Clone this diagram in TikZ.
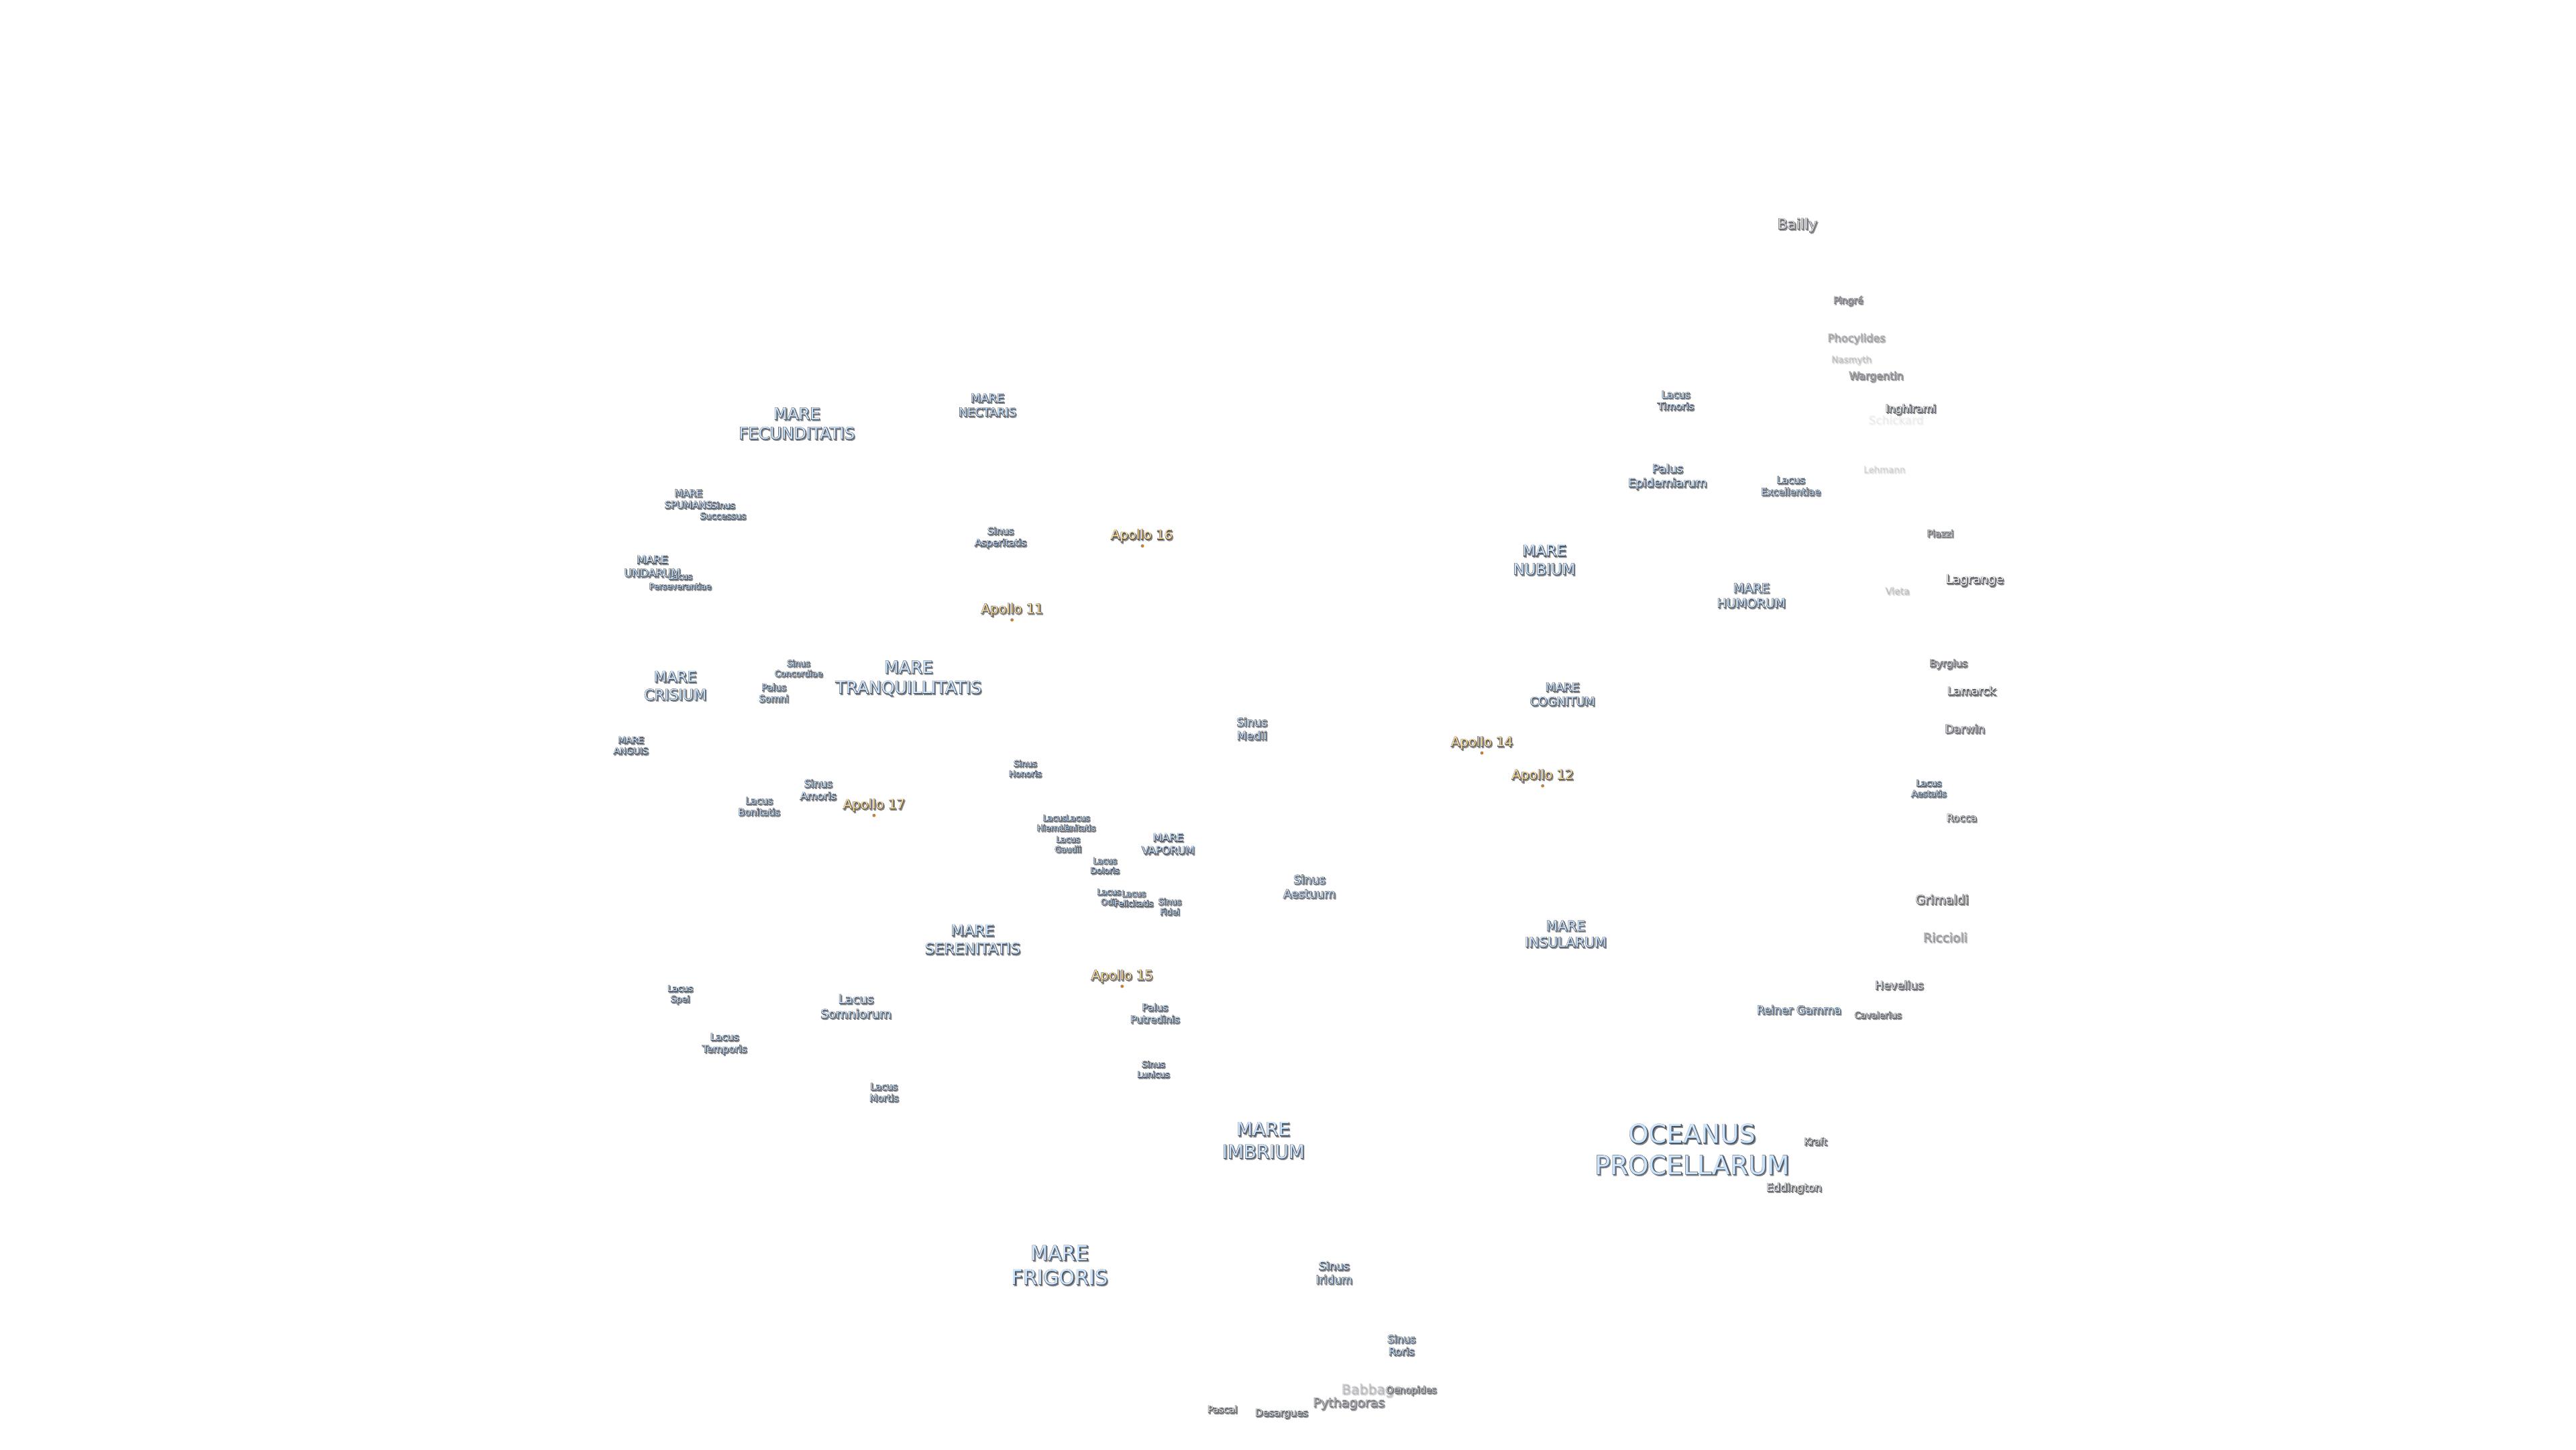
\documentclass[tikz,border=0pt]{standalone}
\usepackage{fontspec}
\setmainfont{DejaVu Sans}

% shadow and outline by stroked glyphs, fill on top, all from the same box
\newsavebox{\lblbox}
\newcommand{\lbl}[3]{%
  \setbox\lblbox=\hbox{\fontsize{#1}{#1}\selectfont\renewcommand{\arraystretch}{1.2}\begin{tabular}{@{}c@{}}#3\end{tabular}}%
  \rlap{\raisebox{-0.5pt}{\hspace{0.45pt}\special{pdf:code q 2 Tr 0.4 w}\special{pdf:bcolor [0.4 0.4 0.4] [0.55 0.55 0.55]}\usebox{\lblbox}\special{pdf:ecolor}\special{pdf:code Q}}}%
  \rlap{\special{pdf:code q 2 Tr 0.3 w}\special{pdf:bcolor [0.28 0.30 0.34] [0.28 0.30 0.34]}\usebox{\lblbox}\special{pdf:ecolor}\special{pdf:code Q}}%
  \special{pdf:bcolor [#2] [#2]}\usebox{\lblbox}\special{pdf:ecolor}}
\newcommand{\seafill}{0.80 0.90 1.00}
\newcommand{\craterfill}{0.95 0.95 0.95}
\newcommand{\sitefill}{1.00 0.87 0.62}

\begin{document}
\begin{tikzpicture}[x=0.0244898cm,y=-0.0244898cm,
    every node/.style={inner sep=0pt,align=center,yshift=-0.5pt},
    site dot/.style={circle,fill=orange!50!gray,minimum size=1.4pt}]
    \useasboundingbox (0,0) rectangle (1568,882);

    \node (procellarum) at (1030,701) {\lbl{11}{\seafill}{OCEANUS\\PROCELLARUM}};
    \node (frigoris) at (645,771) {\lbl{8.6}{\seafill}{MARE\\FRIGORIS}};
    \node (imbrium) at (769,695) {\lbl{7.9}{\seafill}{MARE\\IMBRIUM}};
    \node (tranquillitatis) at (553,413) {\lbl{7.2}{\seafill}{MARE\\TRANQUILLITATIS}};
    \node (serenitatis) at (592,572.5) {\lbl{6.4}{\seafill}{MARE\\SERENITATIS}};
    \node (fecunditatis) at (485,258.5) {\lbl{6.9}{\seafill}{MARE\\FECUNDITATIS}};
    \node (crisium) at (411,418) {\lbl{6.3}{\seafill}{MARE\\CRISIUM}};
    \node (nubium) at (940,341.5) {\lbl{6.5}{\seafill}{MARE\\NUBIUM}};
    \node (humorum) at (1066,363) {\lbl{5.35}{\seafill}{MARE\\HUMORUM}};
    \node (insularum) at (953,569) {\lbl{5.8}{\seafill}{MARE\\INSULARUM}};
    \node (cognitum) at (951,423) {\lbl{5}{\seafill}{MARE\\COGNITUM}};
    \node (vaporum) at (711,514) {\lbl{4.5}{\seafill}{MARE\\VAPORUM}};
    \node (nectaris) at (601,247) {\lbl{4.95}{\seafill}{MARE\\NECTARIS}};
    \node (spumans) at (419,304) {\lbl{4.1}{\seafill}{MARE\\SPUMANS}};
    \node (undarum) at (397,345) {\lbl{4.6}{\seafill}{MARE\\UNDARUM}};
    \node (anguis) at (384,454) {\lbl{3.8}{\seafill}{MARE\\ANGUIS}};

    \node (aestuum) at (797,540) {\lbl{5}{\seafill}{Sinus\\Aestuum}};
    \node (medii) at (762,444) {\lbl{4.8}{\seafill}{Sinus\\Medii}};
    \node (iridum) at (812,775) {\lbl{4.8}{\seafill}{Sinus\\Iridum}};
    \node (roris) at (853,819) {\lbl{4.4}{\seafill}{Sinus\\Roris}};
    \node (asperitatis) at (609,327) {\lbl{4.1}{\seafill}{Sinus\\Asperitatis}};
    \node (concordiae) at (486,407) {\lbl{3.6}{\seafill}{Sinus\\Concordiae}};
    \node (amoris) at (498,481) {\lbl{4.4}{\seafill}{Sinus\\Amoris}};
    \node (successus) at (440,311) {\lbl{3.75}{\seafill}{Sinus\\Successus}};
    \node (honoris) at (624,468) {\lbl{3.6}{\seafill}{Sinus\\Honoris}};
    \node (fidei) at (712,552) {\lbl{3.6}{\seafill}{Sinus\\Fidei}};
    \node (lunicus) at (702,651) {\lbl{3.6}{\seafill}{Sinus\\Lunicus}};

    \node (epidemiarum) at (1015,290) {\lbl{5}{\seafill}{Palus\\Epidemiarum}};
    \node (putredinis) at (703,617) {\lbl{4.2}{\seafill}{Palus\\Putredinis}};
    \node (somni) at (471,422) {\lbl{4}{\seafill}{Palus\\Somni}};

    \node (somniorum) at (521,613) {\lbl{5.2}{\seafill}{Lacus\\Somniorum}};
    \node (excellentiae) at (1090,296) {\lbl{4.15}{\seafill}{Lacus\\Excellentiae}};
    \node (timoris) at (1020,244) {\lbl{4.2}{\seafill}{Lacus\\Timoris}};
    \node (temporis) at (441,635) {\lbl{4.2}{\seafill}{Lacus\\Temporis}};
    \node (mortis) at (538,665) {\lbl{4}{\seafill}{Lacus\\Mortis}};
    \node (bonitatis) at (462,491) {\lbl{4}{\seafill}{Lacus\\Bonitatis}};
    \node (spei) at (414,605) {\lbl{3.7}{\seafill}{Lacus\\Spei}};
    \node (perseverantiae) at (414,354) {\lbl{3.5}{\seafill}{Lacus\\Perseverantiae}};
    \node (aestatis) at (1174,480) {\lbl{3.7}{\seafill}{Lacus\\Aestatis}};
    \node (hiemalis) at (642,501) {\lbl{3.5}{\seafill}{Lacus\\Hiemalis}};
    \node (lenitatis) at (656,501) {\lbl{3.5}{\seafill}{Lacus\\Lenitatis}};
    \node (gaudii) at (650,514) {\lbl{3.5}{\seafill}{Lacus\\Gaudii}};
    \node (doloris) at (672.5,527) {\lbl{3.5}{\seafill}{Lacus\\Doloris}};
    \node (odii) at (675,546) {\lbl{3.5}{\seafill}{Lacus\\Odii}};
    \node (felicitatis) at (690,547) {\lbl{3.5}{\seafill}{Lacus\\Felicitatis}};
    \node (reiner) at (1095,615) {\lbl{4.8}{\seafill}{Reiner Gamma}};

    \node (apollo16) at (695,326) {\lbl{5.6}{\sitefill}{Apollo 16}};
    \node (apollo11) at (616,371) {\lbl{5.6}{\sitefill}{Apollo 11}};
    \node (apollo17) at (532,490) {\lbl{5.6}{\sitefill}{Apollo 17}};
    \node (apollo15) at (683,594) {\lbl{5.6}{\sitefill}{Apollo 15}};
    \node (apollo14) at (902,452) {\lbl{5.6}{\sitefill}{Apollo 14}};
    \node (apollo12) at (939,472) {\lbl{5.6}{\sitefill}{Apollo 12}};
    \node[site dot] (site16) at (695.4,331.5) {};
    \node[site dot] (site11) at (616,376.5) {};
    \node[site dot] (site17) at (532,495.5) {};
    \node[site dot] (site15) at (683,599.5) {};
    \node[site dot] (site14) at (902,457.5) {};
    \node[site dot] (site12) at (939,477.5) {};

    \node[opacity=0.8] (bailly) at (1094,137) {\lbl{6.2}{\craterfill}{Bailly}};
    \node[opacity=0.65] (pingre) at (1125,183) {\lbl{4}{\craterfill}{Pingré}};
    \node[opacity=0.3] (phocylides) at (1130,206) {\lbl{4.6}{\craterfill}{Phocylides}};
    \node[opacity=0.15] (nasmyth) at (1127,219) {\lbl{3.8}{\craterfill}{Nasmyth}};
    \node[opacity=0.5] (wargentin) at (1142,229) {\lbl{4.5}{\craterfill}{Wargentin}};
    \node (inghirami) at (1163,249) {\lbl{4.5}{\craterfill}{Inghirami}};
    \node[opacity=0.04] (schickard) at (1154,256) {\lbl{4.8}{\craterfill}{Schickard}};
    \node[opacity=0.1] (lehmann) at (1147,286) {\lbl{3.8}{\craterfill}{Lehmann}};
    \node[opacity=0.7] (piazzi) at (1181,325) {\lbl{4}{\craterfill}{Piazzi}};
    \node (lagrange) at (1202,353) {\lbl{5.2}{\craterfill}{Lagrange}};
    \node[opacity=0.15] (vieta) at (1155,360) {\lbl{4}{\craterfill}{Vieta}};
    \node[opacity=0.7] (byrgius) at (1186,404) {\lbl{4.3}{\craterfill}{Byrgius}};
    \node (lamarck) at (1200,421) {\lbl{4.8}{\craterfill}{Lamarck}};
    \node[opacity=0.85] (darwin) at (1196,444) {\lbl{4.8}{\craterfill}{Darwin}};
    \node (rocca) at (1194,498) {\lbl{4.3}{\craterfill}{Rocca}};
    \node[opacity=0.85] (grimaldi) at (1182,548) {\lbl{5.3}{\craterfill}{Grimaldi}};
    \node[opacity=0.35] (riccioli) at (1184,571) {\lbl{5.3}{\craterfill}{Riccioli}};
    \node[opacity=0.9] (hevelius) at (1156,600) {\lbl{4.8}{\craterfill}{Hevelius}};
    \node[opacity=0.8] (cavalerius) at (1143,618) {\lbl{3.8}{\craterfill}{Cavalerius}};
    \node (kraft) at (1105,695) {\lbl{4}{\craterfill}{Kraft}};
    \node (eddington) at (1092,723) {\lbl{4.6}{\craterfill}{Eddington}};
    \node[opacity=0.18] (babbage) at (835,846) {\lbl{5.8}{\craterfill}{Babbage}};
    \node[opacity=0.8] (oenopides) at (859,846) {\lbl{4}{\craterfill}{Oenopides}};
    \node[opacity=0.55] (pythagoras) at (821,854) {\lbl{5.4}{\craterfill}{Pythagoras}};
    \node (pascal) at (744,858) {\lbl{4}{\craterfill}{Pascal}};
    \node[opacity=0.85] (desargues) at (780,860) {\lbl{4.2}{\craterfill}{Desargues}};
\end{tikzpicture}
\end{document}
